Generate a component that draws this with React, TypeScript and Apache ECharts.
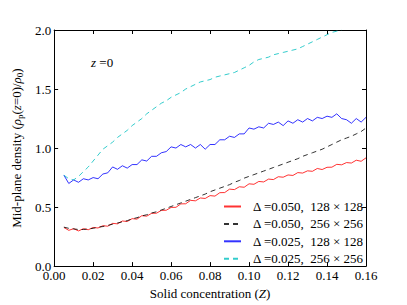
import React, { useEffect, useRef } from "react";
import * as echarts from "echarts";

// Solid concentration Z (x values)
const Z = [
  0.005, 0.0075, 0.01, 0.0125, 0.015, 0.0175, 0.02, 0.0225, 0.025, 0.0275,
  0.03, 0.0325, 0.035, 0.0375, 0.04, 0.0425, 0.045, 0.0475, 0.05, 0.0525,
  0.055, 0.0575, 0.06, 0.0625, 0.065, 0.0675, 0.07, 0.0725, 0.075, 0.0775,
  0.08, 0.0825, 0.085, 0.0875, 0.09, 0.0925, 0.095, 0.0975, 0.1, 0.1025,
  0.105, 0.1075, 0.11, 0.1125, 0.115, 0.1175, 0.12, 0.1225, 0.125, 0.1275,
  0.13, 0.1325, 0.135, 0.1375, 0.14, 0.1425, 0.145, 0.1475, 0.15, 0.1525,
  0.155, 0.1575, 0.16,
];

// Δ=0.050, 128×128 (red, solid)
const d050_128 = [
  0.327, 0.303, 0.317, 0.298, 0.317, 0.308, 0.327, 0.323, 0.342, 0.338,
  0.362, 0.358, 0.382, 0.378, 0.402, 0.398, 0.427, 0.423, 0.447, 0.448,
  0.472, 0.473, 0.497, 0.498, 0.527, 0.528, 0.557, 0.553, 0.577, 0.573,
  0.597, 0.593, 0.622, 0.623, 0.652, 0.648, 0.672, 0.668, 0.697, 0.693,
  0.717, 0.713, 0.737, 0.733, 0.757, 0.753, 0.772, 0.768, 0.792, 0.788,
  0.807, 0.803, 0.827, 0.818, 0.837, 0.838, 0.862, 0.858, 0.877, 0.873,
  0.897, 0.888, 0.917,
];

// Δ=0.050, 256×256 (black, dashed)
const d050_256 = [
  0.33, 0.32, 0.315, 0.31, 0.31, 0.315, 0.32, 0.33, 0.335, 0.345,
  0.355, 0.365, 0.375, 0.385, 0.4, 0.41, 0.425, 0.435, 0.45, 0.46,
  0.475, 0.49, 0.505, 0.52, 0.535, 0.55, 0.565, 0.58, 0.595, 0.61,
  0.63, 0.645, 0.66, 0.675, 0.69, 0.71, 0.725, 0.745, 0.76, 0.775,
  0.79, 0.805, 0.82, 0.835, 0.85, 0.865, 0.88, 0.895, 0.91, 0.93,
  0.945, 0.96, 0.975, 0.99, 1.01, 1.03, 1.05, 1.07, 1.085, 1.1,
  1.12, 1.14, 1.17,
];

// Δ=0.025, 128×128 (blue, solid)
const d025_128 = [
  0.77, 0.7, 0.73, 0.71, 0.74, 0.73, 0.75, 0.74, 0.78, 0.79,
  0.84, 0.82, 0.85, 0.83, 0.86, 0.86, 0.9, 0.89, 0.93, 0.93,
  0.96, 0.97, 1.01, 1.0, 1.03, 1.01, 1.03, 1.0, 1.03, 0.99,
  1.03, 1.03, 1.07, 1.07, 1.1, 1.09, 1.12, 1.12, 1.17, 1.16,
  1.18, 1.17, 1.21, 1.2, 1.22, 1.19, 1.23, 1.21, 1.24, 1.22,
  1.25, 1.23, 1.26, 1.25, 1.27, 1.26, 1.29, 1.25, 1.24, 1.21,
  1.25, 1.22, 1.26,
];

// Δ=0.025, 256×256 (cyan, dashed) — runs up to Z=0.1475
const d025_256 = [
  0.77, 0.74, 0.73, 0.76, 0.8, 0.84, 0.89, 0.94, 0.99, 1.02,
  1.05, 1.09, 1.12, 1.15, 1.19, 1.22, 1.25, 1.29, 1.32, 1.35,
  1.38, 1.4, 1.43, 1.45, 1.47, 1.5, 1.52, 1.54, 1.56, 1.57,
  1.58, 1.6, 1.61, 1.62, 1.63, 1.64, 1.66, 1.68, 1.7, 1.73,
  1.75, 1.76, 1.77, 1.79, 1.8, 1.81, 1.82, 1.83, 1.84, 1.86,
  1.88, 1.9, 1.92, 1.94, 1.96, 1.98, 1.99, 2.0,
];

const NAMES = [
  "Δ =0.050,  128 × 128",
  "Δ =0.050,  256 × 256",
  "Δ =0.025,  128 × 128",
  "Δ =0.025,  256 × 256",
];
const COLORS = ["#ff0000", "#000000", "#0000ff", "#00bfbf"];
const DASHED = [false, true, false, true];
const SERIES = [d050_128, d050_256, d025_128, d025_256];

const FONT = "'Liberation Serif', 'Times New Roman', serif";

export default function App() {
  const ref = useRef<HTMLDivElement>(null);
  useEffect(() => {
    const chart = echarts.init(ref.current!, null, { renderer: "svg" });
    const pairs = (ys: number[]) => ys.map((y, i) => [Z[i], y]);
    const axisLine = { onZero: false, lineStyle: { color: "#000", width: 1 } };
    const axisTick = { inside: true, length: 4, lineStyle: { color: "#000", width: 1 } };
    chart.setOption({
      animation: false,
      backgroundColor: "#fff",
      textStyle: { fontFamily: FONT },
      grid: { left: 51, right: 41, top: 30, bottom: 31, containLabel: false },
      legend: {
        orient: "vertical",
        left: 223,
        top: 200,
        padding: 0,
        itemWidth: 17,
        itemHeight: 12,
        itemGap: 4.4,
        data: NAMES,
        itemStyle: { opacity: 0 },
        textStyle: {
          fontFamily: FONT,
          fontSize: 13,
          color: "#000",
          lineHeight: 12,
          padding: [0, 0, 0, 7],
        },
      },
      xAxis: [
        {
          type: "value",
          min: 0,
          max: 0.16,
          interval: 0.02,
          position: "bottom",
          axisLine,
          axisTick,
          splitLine: { show: false },
          axisLabel: {
            formatter: (v: number) => v.toFixed(2),
            color: "#000",
            fontFamily: FONT,
            fontSize: 13,
            margin: 3,
          },
          name: "Solid concentration ({i|Z})",
          nameLocation: "middle",
          nameGap: 18,
          nameTextStyle: {
            fontFamily: FONT,
            fontSize: 13,
            color: "#000",
            rich: { i: { fontFamily: FONT, fontSize: 13, fontStyle: "italic", color: "#000" } },
          },
        },
        {
          type: "value",
          min: 0,
          max: 0.16,
          interval: 0.02,
          position: "top",
          axisLine,
          axisTick,
          splitLine: { show: false },
          axisLabel: { show: false },
        },
      ],
      yAxis: [
        {
          type: "value",
          min: 0,
          max: 2,
          interval: 0.5,
          position: "left",
          axisLine,
          axisTick,
          splitLine: { show: false },
          axisLabel: {
            formatter: (v: number) => v.toFixed(1),
            color: "#000",
            fontFamily: FONT,
            fontSize: 13,
            margin: 3,
          },
          name: "Mid-plane density ({i|ρ}{s|p}({i|z}=0)/{i|ρ}{s|0})",
          nameLocation: "middle",
          nameGap: 24,
          nameTextStyle: {
            fontFamily: FONT,
            fontSize: 13,
            color: "#000",
            lineHeight: 16,
            rich: {
              i: { fontFamily: FONT, fontSize: 13, fontStyle: "italic", color: "#000", lineHeight: 16 },
              s: { fontFamily: FONT, fontSize: 9, color: "#000", verticalAlign: "bottom", lineHeight: 16 },
            },
          },
        },
        {
          type: "value",
          min: 0,
          max: 2,
          interval: 0.5,
          position: "right",
          axisLine,
          axisTick,
          splitLine: { show: false },
          axisLabel: { show: false },
        },
      ],
      graphic: [
        {
          type: "text",
          left: 91,
          top: 56,
          style: {
            text: "{i|z} =0",
            fontFamily: FONT,
            fontSize: 13,
            fill: "#000",
            rich: { i: { fontFamily: FONT, fontSize: 13, fontStyle: "italic", fill: "#000" } },
          },
        },
      ],
      series: SERIES.map((ys, k) => ({
        name: NAMES[k],
        type: "line",
        data: pairs(ys),
        showSymbol: false,
        symbol: "none",
        clip: true,
        z: 2 + k,
        lineStyle: {
          color: COLORS[k],
          width: 1,
          opacity: 0.8,
          type: DASHED[k] ? [5, 4] : "solid",
        },
        itemStyle: { color: COLORS[k] },
      })),
    });
    return () => chart.dispose();
  }, []);
  return (
    <div
      ref={ref}
      style={{ position: "fixed", left: 0, top: 0, width: 407, height: 305 }}
    />
  );
}
